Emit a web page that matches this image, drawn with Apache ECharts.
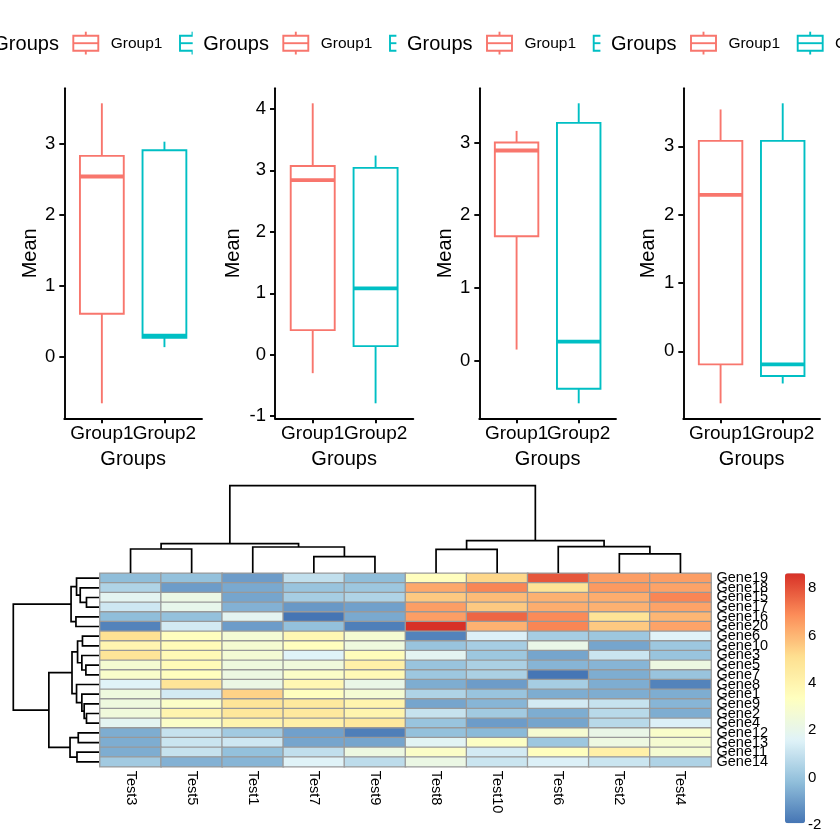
<!DOCTYPE html>
<html>
<head>
<meta charset="utf-8">
<script src="https://cdn.jsdelivr.net/npm/echarts@6/dist/echarts.min.js"></script>
<style>
html,body{margin:0;padding:0;background:#fff;}
#chart{width:840px;height:840px;}
</style>
</head>
<body>
<div id="chart"></div>
<script>
// ---------- data ----------
const groups = ['Group1', 'Group2'];
const groupColors = ['#F8766D', '#00BFC4'];
const legendTitle = 'Groups';
const yTitle = 'Mean';
// boxplot stats per panel: [min, Q1, median, Q3, max]
const panel1Group1 = [-0.65, 0.61, 2.54, 2.83, 3.57];
const panel1Group2 = [0.14, 0.27, 0.30, 2.91, 3.03];
const panel2Group1 = [-0.30, 0.40, 2.84, 3.07, 4.09];
const panel2Group2 = [-0.79, 0.14, 1.08, 3.04, 3.24];
const panel3Group1 = [0.15, 1.71, 2.89, 3.00, 3.16];
const panel3Group2 = [-0.59, -0.39, 0.26, 3.27, 3.54];
const panel4Group1 = [-0.76, -0.19, 2.29, 3.08, 3.54];
const panel4Group2 = [-0.47, -0.36, -0.19, 3.08, 3.63];
const panels = [
  [panel1Group1, panel1Group2],
  [panel2Group1, panel2Group2],
  [panel3Group1, panel3Group2],
  [panel4Group1, panel4Group2]
];

// heatmap (display order)
const tests = ['Test3','Test5','Test1','Test7','Test9','Test8','Test10','Test6','Test2','Test4'];
const genes = ['Gene19','Gene18','Gene15','Gene17','Gene16','Gene20','Gene6','Gene10','Gene3','Gene5',
               'Gene7','Gene8','Gene1','Gene9','Gene2','Gene4','Gene12','Gene13','Gene11','Gene14'];
const heatValues = [
  [-0.2, -0.1, -1.0,  0.9, -0.2, 3.4, 5.3, 7.9, 6.5, 6.5],
  [ 0.5, -1.0, -0.7,  0.0,  0.1, 6.3, 7.0, 4.9, 6.6, 6.4],
  [ 1.8,  2.2, -0.8,  0.3,  0.5, 5.6, 5.9, 6.1, 6.2, 7.0],
  [ 1.2,  2.0, -0.5, -1.1, -0.9, 6.5, 5.6, 6.2, 6.1, 6.4],
  [-0.2, -0.1,  1.8, -1.93,-0.7, 6.5, 7.6, 6.9, 4.9, 6.0],
  [-1.6,  1.3, -1.0, -0.1, -1.7, 8.63,6.1, 7.0, 5.6, 6.4],
  [ 5.0,  3.4,  2.7,  3.8,  2.8, -1.6, 1.5, 0.3, 0.1, 1.6],
  [ 3.9,  3.6,  2.8,  3.4,  2.4, 0.0, 0.3, 2.1, -0.8, 0.1],
  [ 4.8,  3.7,  2.7,  1.6,  3.5, 1.8, 0.1, -0.8, 1.1, 0.0],
  [ 2.8,  3.6,  2.4,  2.5,  4.2, 0.0, 0.4, -0.4, -0.4, 2.3],
  [ 3.0,  3.4,  2.3,  3.1,  3.7, 0.1, 0.4, -1.9, -0.6, 0.0],
  [ 1.6,  4.8,  2.2,  3.8,  2.1, -0.6, -1.0, 0.3, -0.6, -1.6],
  [ 2.4,  1.3,  5.4,  3.4,  2.7, 0.5, 0.0, -0.6, -0.6, -0.6],
  [ 2.4,  3.1,  4.8,  4.6,  4.0, -0.8, -0.4, 1.3, 1.0, -0.4],
  [ 2.5,  4.0,  4.7,  4.6,  4.0, 1.0, 0.2, -0.6, 0.7, -0.6],
  [ 1.8,  3.1,  4.0,  4.2,  4.6, 0.0, -1.0, -0.8, 0.7, 1.5],
  [-0.6,  1.0,  0.2, -0.9, -1.7, -0.1, -0.3, 2.8, 2.1, 3.0],
  [-0.6,  1.1,  1.2, -0.8, -0.8, 1.7, 3.2, 0.1, 2.3, 2.8],
  [-0.6,  1.0, -0.1,  0.9,  2.3, 3.1, 1.3, 3.4, 4.2, 2.8],
  [ 0.2, -0.5, -0.4,  1.6,  0.8, 2.2, 1.1, 1.5, 1.1, 0.5]
];
const heatColors = ['#4575B4','#91BFDB','#E0F3F8','#FFFFBF','#FEE090','#FC8D59','#D73027'];
const colorbarTicks = [-2, 0, 2, 4, 6, 8];

// dendrograms, hclust-style merges: negative = leaf (display position), positive = earlier merge (1-based)
const colMerges = [
  [-1, -2, 2.75], [-4, -5, 1.87], [-3, 2, 2.98], [1, 3, 3.36],
  [-6, -7, 2.71], [-9, -10, 2.18], [-8, 6, 3.01], [5, 7, 3.70], [4, 8, 10]
];
const rowMerges = [
  [-3, -4, 1.46], [-2, 1, 2.19], [-1, 2, 2.62], [-5, -6, 2.69], [3, 4, 3.26],
  [-7, -8, 1.93], [-10, -11, 1.53], [-9, 7, 2.00], [6, 8, 2.50],
  [-15, -16, 1.46], [-14, 10, 1.73], [-13, 11, 2.00], [-12, 12, 2.62], [9, 13, 3.15],
  [-17, -18, 2.42], [-19, -20, 2.57], [15, 16, 3.38], [14, 17, 5.85], [5, 18, 10]
];

// ---------- helpers ----------
const FONT = '"Liberation Sans", Arial, Helvetica, sans-serif';
function buildDendro(merges){
  const pos = [], ht = [];
  const node = k => k < 0 ? {p: -k - 1 + 0.5, h: 0} : {p: pos[k-1], h: ht[k-1]};
  return merges.map((m, i) => {
    const L = node(m[0]), R = node(m[1]);
    pos[i] = (L.p + R.p) / 2; ht[i] = m[2];
    return [L.p, L.h, R.p, R.h, m[2]];
  });
}
function yRange(stats){
  const all = [].concat(...stats);
  const lo = Math.min(...all), hi = Math.max(...all), sp = hi - lo;
  return [lo - 0.05*sp, hi + 0.05*sp];
}
function intTicks(r){
  const t = []; for (let v = Math.ceil(r[0]); v <= Math.floor(r[1]); v++) t.push(v); return t;
}

// ---------- layout (pixels) ----------
const boxGrids = [
  {left: 64.3, width: 137.7, nameGap: 24},
  {left: 275, width: 138.3, nameGap: 32},
  {left: 479.3, width: 136.7, nameGap: 24},
  {left: 683.3, width: 136.7, nameGap: 25}
];
const boxTop = 88.3, boxHeight = 330;
const heat = {left: 100, top: 573.3, width: 611, height: 193.4};
const flat = [].concat(...heatValues);
const hMin = Math.min(...flat), hMax = Math.max(...flat);
const cbar = {left: 785, top: 573.3, width: 20, height: 250};
const BOXLW = 1.9, MEDLW = 3.8, AXLW = 1.9, DENLW = 1.7;
const groupPos = groups.map((g, k) => k + 1);

const grids = [], xAxes = [], yAxes = [], series = [], extraX = [];
boxGrids.forEach((g, i) => {
  grids.push({left: g.left, top: boxTop, width: g.width, height: boxHeight, outerBoundsMode: 'none'});
  const r = yRange(panels[i]);
  const ticks = intTicks(r);
  const lineStyle = {color: '#000', width: AXLW};
  const labelStyle = {formatter: v => groups[Math.round(v) - 1], color: '#000',
      fontSize: 19, fontFamily: FONT, margin: 6, hideOverlap: false};
  // main x axis: line, all ticks, first group label
  xAxes.push({
    type: 'value', gridIndex: i, min: 0.4, max: 2.6,
    axisLine: {show: true, onZero: false, lineStyle},
    axisTick: {show: true, customValues: groupPos, length: 5, lineStyle},
    axisLabel: Object.assign({customValues: [groupPos[0]]}, labelStyle),
    splitLine: {show: false},
    name: legendTitle, nameLocation: 'middle', nameGap: 31,
    nameTextStyle: {fontSize: 20, color: '#000', fontFamily: FONT}
  });
  // overlay axis for second group label (avoids overlap-hiding; labels touch like the reference)
  extraX.push({
    type: 'value', gridIndex: i, min: 0.4, max: 2.6, position: 'bottom', offset: 0,
    axisLine: {show: false}, axisTick: {show: false}, splitLine: {show: false},
    axisLabel: Object.assign({customValues: [groupPos[1]]}, labelStyle)
  });
  yAxes.push({
    type: 'value', gridIndex: i, min: r[0], max: r[1],
    axisLine: {show: true, onZero: false, lineStyle},
    axisTick: {show: true, customValues: ticks, length: 5, lineStyle},
    axisLabel: {customValues: ticks, color: '#000', fontSize: 18.5, fontFamily: FONT, margin: 9},
    splitLine: {show: false},
    name: yTitle, nameLocation: 'middle', nameGap: g.nameGap, nameRotate: 90,
    nameTextStyle: {fontSize: 20, color: '#000', fontFamily: FONT}
  });
  series.push({
    type: 'custom', xAxisIndex: i, yAxisIndex: i,
    data: panels[i].map((s, k) => [groupPos[k], s[0], s[1], s[2], s[3], s[4], k]),
    renderItem: function(params, api){
      const x = api.value(0);
      const lo = api.coord([x, api.value(1)]);
      const q1 = api.coord([x, api.value(2)]);
      const md = api.coord([x, api.value(3)]);
      const q3 = api.coord([x, api.value(4)]);
      const hi = api.coord([x, api.value(5)]);
      const w = api.size([0.7, 0])[0];
      const c = groupColors[api.value(6)];
      return {type: 'group', children: [
        {type: 'line', shape: {x1: hi[0], y1: hi[1], x2: q3[0], y2: q3[1]}, style: {stroke: c, lineWidth: BOXLW}},
        {type: 'line', shape: {x1: q1[0], y1: q1[1], x2: lo[0], y2: lo[1]}, style: {stroke: c, lineWidth: BOXLW}},
        {type: 'rect', shape: {x: q3[0] - w/2, y: q3[1], width: w, height: q1[1] - q3[1]}, style: {fill: '#fff', stroke: c, lineWidth: BOXLW}},
        {type: 'line', shape: {x1: md[0] - w/2, y1: md[1], x2: md[0] + w/2, y2: md[1]}, style: {stroke: c, lineWidth: MEDLW}}
      ]};
    }
  });
});

// heatmap grid (4)
grids.push({left: heat.left, top: heat.top, width: heat.width, height: heat.height, outerBoundsMode: 'none'});
xAxes.push({
  type: 'category', gridIndex: 4, data: tests, position: 'bottom',
  axisLine: {show: false}, axisTick: {show: false}, splitLine: {show: false},
  axisLabel: {rotate: -90, interval: 0, fontSize: 14.5, fontFamily: FONT, color: '#000', margin: 4}
});
yAxes.push({
  type: 'category', gridIndex: 4, data: genes, inverse: true, position: 'right',
  axisLine: {show: false}, axisTick: {show: false}, splitLine: {show: false},
  axisLabel: {interval: 0, fontSize: 14.5, fontFamily: FONT, color: '#000', margin: 5.5}
});
const heatData = [];
heatValues.forEach((row, r) => row.forEach((v, c) => heatData.push([c, r, v])));
series.push({
  type: 'heatmap', xAxisIndex: 4, yAxisIndex: 4, data: heatData,
  itemStyle: {borderColor: '#999999', borderWidth: 1.3},
  emphasis: {disabled: true}
});

// column dendrogram grid (5)
grids.push({left: heat.left, top: 485.7, width: heat.width, height: 87.3, outerBoundsMode: 'none'});
xAxes.push({type: 'value', gridIndex: 5, min: 0, max: tests.length, show: false});
yAxes.push({type: 'value', gridIndex: 5, min: 0, max: 10, show: false});
series.push({
  type: 'custom', xAxisIndex: 5, yAxisIndex: 5, data: buildDendro(colMerges),
  renderItem: function(params, api){
    const a = api.coord([api.value(0), api.value(1)]);
    const b = api.coord([api.value(0), api.value(4)]);
    const c = api.coord([api.value(2), api.value(4)]);
    const d = api.coord([api.value(2), api.value(3)]);
    return {type: 'polyline', shape: {points: [a, b, c, d]}, style: {stroke: '#000', fill: null, lineWidth: DENLW}};
  }
});

// row dendrogram grid (6)
grids.push({left: 13.3, top: heat.top, width: heat.left - 13.3 - 1, height: heat.height, outerBoundsMode: 'none'});
xAxes.push({type: 'value', gridIndex: 6, min: 0, max: 10, inverse: true, show: false});
yAxes.push({type: 'value', gridIndex: 6, min: 0, max: genes.length, inverse: true, show: false});
series.push({
  type: 'custom', xAxisIndex: 6, yAxisIndex: 6, data: buildDendro(rowMerges),
  renderItem: function(params, api){
    const a = api.coord([api.value(1), api.value(0)]);
    const b = api.coord([api.value(4), api.value(0)]);
    const c = api.coord([api.value(4), api.value(2)]);
    const d = api.coord([api.value(3), api.value(2)]);
    return {type: 'polyline', shape: {points: [a, b, c, d]}, style: {stroke: '#000', fill: null, lineWidth: DENLW}};
  }
});

// colorbar label axis grid (7)
const cbAxisMin = Math.min(hMin, colorbarTicks[0]);
grids.push({left: cbar.left, top: cbar.top, width: cbar.width,
  height: cbar.height * (hMax - cbAxisMin) / (hMax - hMin), outerBoundsMode: 'none'});
xAxes.push({type: 'value', gridIndex: 7, min: 0, max: 1, show: false});
yAxes.push({
  type: 'value', gridIndex: 7, min: cbAxisMin, max: hMax, position: 'right',
  axisLine: {show: false}, axisTick: {show: false}, splitLine: {show: false},
  axisLabel: {customValues: colorbarTicks, fontSize: 15, fontFamily: FONT, color: '#000', margin: 3}
});
series.push({type: 'scatter', xAxisIndex: 7, yAxisIndex: 7, data: [], silent: true});

// overlay x axes (indices 8..11)
extraX.forEach(a => xAxes.push(a));

// ---------- legends (graphic, each later legend box covers earlier overflow) ----------
const legendStarts = [-6.7, 203.3, 407, 611];
const iconOffsets = [80, 186.7];
const legendY = 44;
function legendElements(){
  const els = []; let z = 10;
  legendStarts.forEach((gx, i) => {
    if (i > 0) els.push({type: 'rect', z: z++, shape: {x: gx - 10.6, y: 18, width: 260, height: 52}, style: {fill: '#fff'}});
    els.push({type: 'text', z: z, x: gx, y: legendY,
      style: {text: legendTitle, fontSize: 20, fontFamily: FONT, fill: '#000', verticalAlign: 'middle'}});
    groups.forEach((g, k) => {
      const ix = gx + iconOffsets[k], cx = ix + 12.5, col = groupColors[k];
      els.push({type: 'line', z: z, shape: {x1: cx, y1: 31.7, x2: cx, y2: 35.7}, style: {stroke: col, lineWidth: BOXLW}});
      els.push({type: 'line', z: z, shape: {x1: cx, y1: 50.7, x2: cx, y2: 54.5}, style: {stroke: col, lineWidth: BOXLW}});
      els.push({type: 'rect', z: z, shape: {x: ix, y: 35.7, width: 25, height: 15}, style: {fill: 'none', stroke: col, lineWidth: BOXLW}});
      els.push({type: 'line', z: z, shape: {x1: ix, y1: 43.2, x2: ix + 25, y2: 43.2}, style: {stroke: col, lineWidth: BOXLW}});
      els.push({type: 'text', z: z, x: ix + 37.4, y: legendY,
        style: {text: g, fontSize: 15.5, fontFamily: FONT, fill: '#000', verticalAlign: 'middle'}});
    });
    z++;
  });
  return els;
}

const chart = echarts.init(document.getElementById('chart'), null, {renderer: 'canvas'});
chart.setOption({
  animation: false,
  backgroundColor: '#fff',
  textStyle: {fontFamily: FONT},
  grid: grids,
  xAxis: xAxes,
  yAxis: yAxes,
  visualMap: {
    type: 'continuous', seriesIndex: 4, dimension: 2,
    min: hMin, max: hMax, calculable: false, orient: 'vertical',
    left: cbar.left, top: cbar.top, itemWidth: cbar.width, itemHeight: cbar.height,
    padding: 0, text: null, hoverLink: false,
    inRange: {color: heatColors}
  },
  graphic: {elements: legendElements()},
  series: series
});
</script>
</body>
</html>
